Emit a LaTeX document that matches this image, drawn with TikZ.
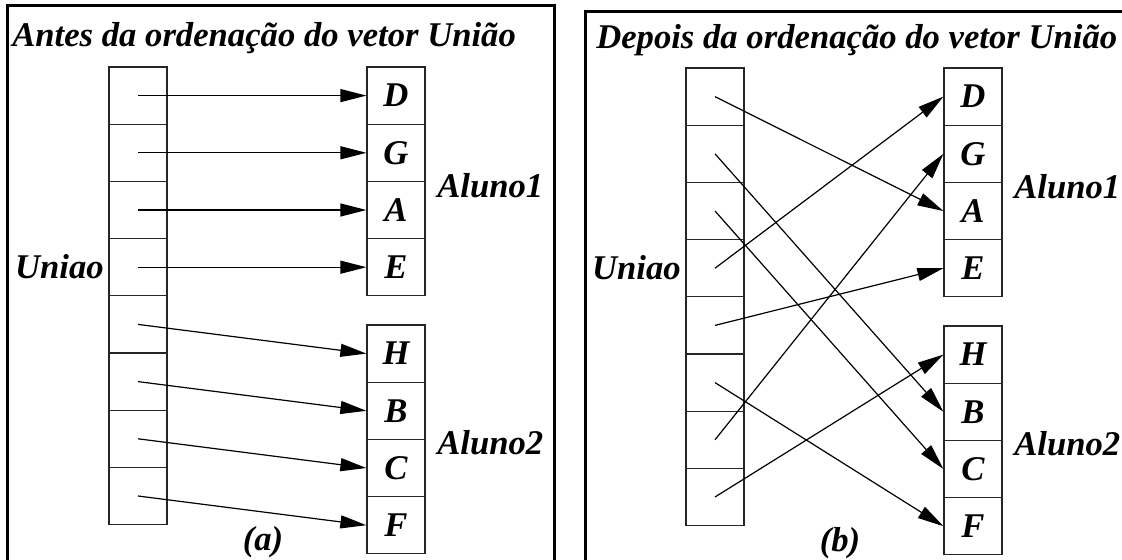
\documentclass[tikz,border=0pt]{standalone}
\usepackage{fontspec}
\setmainfont{Liberation Serif}
\usetikzlibrary{arrows.meta}
\begin{document}
\begin{tikzpicture}[x=0.75pt,y=-0.75pt,
  cell/.style={draw=black!85, line width=0.9pt, minimum width=43.5pt, minimum height=42.9pt, inner sep=0pt,
    font=\fontsize{26}{30}\selectfont\bfseries\itshape},
  lbl/.style={inner sep=0pt, font=\fontsize{26}{30}\selectfont\bfseries\itshape},
  ptr/.style={line width=0.9pt, -{Triangle[length=19.5pt,width=9.75pt]}},
  panelframe/.style={line width=2.25pt}]
\useasboundingbox (0,0) rectangle (1122,560);
\clip (0,0) rectangle (1122,560);
% ---------- left panel ----------
\draw[panelframe] (7,6) rectangle (554,620);
\node[lbl, anchor=base west] (Ltitle) at (12,47) {Antes da ordenação do vetor União};
\foreach \i in {0,...,7} {
  \node[cell] (L-u\i) at (138,{67+57.2*(\i+0.5)}) {};
}
\foreach \n/\t [count=\k from 0] in {D/D,G/G,A/A,E/E} {
  \node[cell] (L-\n) at (396,{67+57.2*(\k+0.5)}) {\t};
}
\foreach \n/\t [count=\k from 0] in {H/H,B/B,C/C,F/F} {
  \node[cell] (L-\n) at (396,{325+57.2*(\k+0.5)}) {\t};
}
\node[lbl, anchor=east] (L-uniao) at (104,267) {Uniao};
\node[lbl, anchor=west] (L-al1) at (437,186) {Aluno1};
\node[lbl, anchor=west] (L-al2) at (437,443) {Aluno2};
\node[lbl] (L-cap) at (263,542) {(a)};
\foreach \i/\t in {0/D,1/G,2/A,3/E,4/H,5/B,6/C,7/F} {
  \draw[ptr] (L-u\i.center) -- (L-\t.west);
}
% ---------- right panel ----------
\begin{scope}[shift={(577,1)}]
\draw[panelframe] (8,11) rectangle (560,620);
\node[lbl, anchor=base west] (Rtitle) at (19,48) {Depois da ordenação do vetor União};
\foreach \i in {0,...,7} {
  \node[cell] (R-u\i) at (138,{67+57.2*(\i+0.5)}) {};
}
\foreach \n/\t [count=\k from 0] in {D/D,G/G,A/A,E/E} {
  \node[cell] (R-\n) at (396,{67+57.2*(\k+0.5)}) {\t};
}
\foreach \n/\t [count=\k from 0] in {H/H,B/B,C/C,F/F} {
  \node[cell] (R-\n) at (396,{325+57.2*(\k+0.5)}) {\t};
}
\node[lbl, anchor=east] (R-uniao) at (104,267) {Uniao};
\node[lbl, anchor=west] (R-al1) at (437,186) {Aluno1};
\node[lbl, anchor=west] (R-al2) at (437,443) {Aluno2};
\node[lbl] (R-cap) at (263,542) {(b)};
\foreach \i/\t in {0/A,1/B,2/C,3/D,4/E,5/F,6/G,7/H} {
  \draw[ptr] (R-u\i.center) -- (R-\t.west);
}
\end{scope}
\end{tikzpicture}
\end{document}
